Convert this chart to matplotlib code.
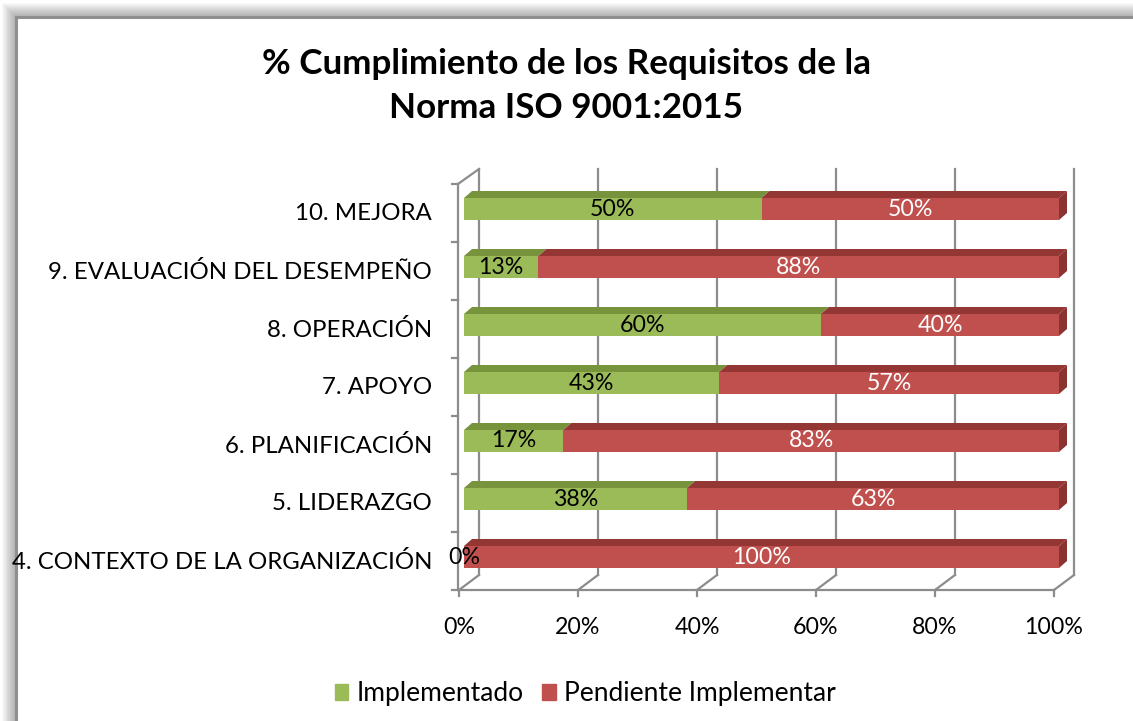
import matplotlib.pyplot as plt
from matplotlib.patches import Rectangle, Polygon

categorias = ["4. CONTEXTO DE LA ORGANIZACIÓN", "5. LIDERAZGO", "6. PLANIFICACIÓN",
              "7. APOYO", "8. OPERACIÓN", "9. EVALUACIÓN DEL DESEMPEÑO", "10. MEJORA"]
implementado = [0, 37.5, 16.7, 42.9, 60, 12.5, 50]
pendiente = [100, 62.5, 83.3, 57.1, 40, 87.5, 50]
ticks_x = [0, 20, 40, 60, 80, 100]
series = ["Implementado", "Pendiente Implementar"]

W, H = 1133, 721
plt.rcParams['font.family'] = ['Lato', 'DejaVu Sans']

verde, verde_top = '#9BBB59', '#77933C'
rojo, rojo_top, rojo_side = '#C0504D', '#943634', '#8A3330'
gris = '#8C8C8C'

fig = plt.figure(figsize=(W / 100, H / 100), dpi=100)

# marco con sombra
for k in range(14, 0, -1):
    fig.add_artist(Rectangle(((16 - k) / W, -0.1), 1.2, (1 - (17 - k) / H) + 0.1,
                             transform=fig.transFigure, facecolor='black',
                             alpha=0.025, edgecolor='none', zorder=-20))
fig.add_artist(Rectangle((16 / W, -0.1), 1.2, (1 - 17 / H) + 0.1, transform=fig.transFigure,
                         facecolor='white', edgecolor='#8f8f8f', lw=2.2, zorder=-19))

# ejes: barras de 0% (x=464px) a 100% (x=1059px), categorias entre y=184 y y=590
ax = fig.add_axes([464 / W, 1 - 590 / H, 595 / W, 406 / H])
ax.set_xlim(0, 100)
ax.set_ylim(-0.5, 6.5)
ax.axis('off')
PX = 100 / 595
PY = 1 / 58

y0, y1 = -0.5, 6.5
lw = 1.6
# pared del fondo: lineas de cuadricula
for v in ticks_x:
    xb = v + 15 * PX
    ax.plot([xb, xb], [y0 + 15 * PY, y1 + 15 * PY], color=gris, lw=lw, clip_on=False, zorder=1)
    xf = v - 5 * PX
    ax.plot([xf, xb], [y0, y0 + 15 * PY], color=gris, lw=lw, clip_on=False, zorder=1)
    ax.plot([xf, xf], [y0, y0 - 6 * PY], color=gris, lw=lw, clip_on=False, zorder=1)
    ax.text(xf, y0 - 37 * PY, f"{v}%", ha='center', va='center', fontsize=16.7)
# suelo y pared izquierda
ax.plot([-6 * PX, 100 - 5 * PX], [y0, y0], color=gris, lw=lw, clip_on=False, zorder=1)
ax.plot([-6 * PX, -6 * PX], [y0, y1], color=gris, lw=lw, clip_on=False, zorder=1)
ax.plot([-6 * PX, 15 * PX], [y1, y1 + 15 * PY], color=gris, lw=lw, clip_on=False, zorder=1)
for i in range(len(categorias) + 1):
    ax.plot([-12 * PX, -6 * PX], [y0 + i, y0 + i], color=gris, lw=lw, clip_on=False, zorder=1)

# barras 3D
h = 22 * PY
dx, dy = 8 * PX, 7 * PY
for i, cat in enumerate(categorias):
    yc = i + 4 * PY
    left = 0
    segs = [(implementado[i], verde, verde_top, 'black'), (pendiente[i], rojo, rojo_top, 'white')]
    for j, (w, c, ct, tc) in enumerate(segs):
        ax.barh(yc, w, left=left, height=h, color=c, edgecolor='none', zorder=3)
        if w > 0:
            ax.add_patch(Polygon([(left, yc + h / 2), (left + w, yc + h / 2),
                                  (left + w + dx, yc + h / 2 + dy), (left + dx, yc + h / 2 + dy)],
                                 closed=True, facecolor=ct, edgecolor='none', zorder=3, clip_on=False))
        if j == len(segs) - 1:
            xr = left + w
            ax.add_patch(Polygon([(xr, yc - h / 2), (xr, yc + h / 2), (xr + dx, yc + h / 2 + dy),
                                  (xr + dx, yc - h / 2 + dy)],
                                 closed=True, facecolor=rojo_side, edgecolor='none', zorder=3, clip_on=False))
        ax.text(left + w / 2, yc, f"{int(w + 0.5)}%", ha='center', va='center',
                fontsize=16.7, color=tc, zorder=5)
        left += w
    ax.text(-32 * PX, i - 1 * PY, cat, ha='right', va='center', fontsize=17.3)

fig.text(566 / W, 1 - 86 / H, "% Cumplimiento de los Requisitos de la\nNorma ISO 9001:2015",
         ha='center', va='center', fontsize=25.2, fontweight='bold', linespacing=1.5)

handles = [Rectangle((0, 0), 1, 1, color=verde), Rectangle((0, 0), 1, 1, color=rojo)]
fig.legend(handles, series, loc='center', bbox_to_anchor=(585 / W, 1 - 694 / H), ncol=2,
           frameon=False, fontsize=19, handlelength=0.52, handleheight=0.52,
           handletextpad=0.3, columnspacing=0.7)

fig.savefig('out.png', dpi=100)
